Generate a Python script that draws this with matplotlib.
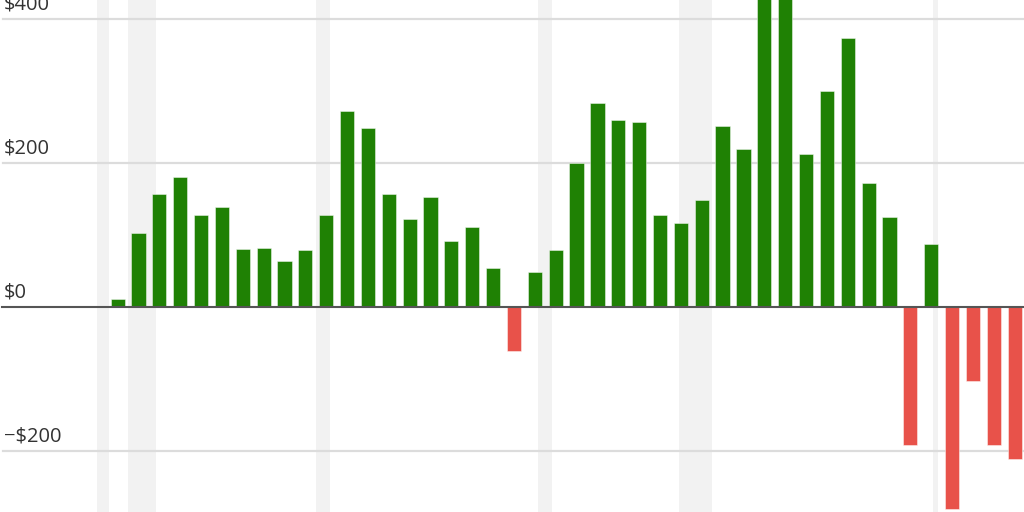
import matplotlib
matplotlib.use("Agg")
import matplotlib.pyplot as plt
import matplotlib.transforms as mtransforms

plt.rcParams['font.family'] = ['Open Sans', 'DejaVu Sans']

# yearly values, 1981-2024
years = list(range(1981, 2025))
values = [11, 102, 156, 180, 127, 139, 80, 81, 64, 79,
          128, 272, 248, 156, 122, 152, 92, 111, 54, -62,
          48, 79, 199, 283, 260, 256, 127, 117, 148, 251,
          219, 470, 460, 212, 300, 373, 172, 125, -192, 87,
          -281, -103, -192, -211]

# recession periods (start, end) in fractional years
recessions = [(1980.0, 1980.58), (1981.5, 1982.83), (1990.5, 1991.17),
              (2001.17, 2001.83), (2007.92, 2009.5), (2020.08, 2020.33)]

yticks = [400, 200, 0, -200]
ytick_labels = ['$400', '$200', '$0', '\u2212$200']

green = '#1f8104'
red = '#e8524a'

fig = plt.figure(figsize=(10.24, 5.12), dpi=100)
ax = fig.add_axes([0, 0, 1, 1])

for start, end in recessions:
    ax.axvspan(start, end, color='#f2f2f2', lw=0, zorder=0)

for y in yticks:
    if y == 0:
        continue
    ax.axhline(y, xmin=0.003, color='#dcdcdc', lw=1.6, zorder=1)

colors = [green if v >= 0 else red for v in values]
ax.bar(years, values, width=0.68, color=colors,
       edgecolor=(1, 1, 1, 0.45), linewidth=0.7, zorder=2)

ax.axhline(0, xmin=0.002, color='#555555', lw=1.5, zorder=3)

trans = mtransforms.blended_transform_factory(ax.transAxes, ax.transData)
for y, lab in zip(yticks, ytick_labels):
    ax.annotate(lab, xy=(0.004, y), xycoords=trans,
                xytext=(0, 6.5), textcoords='offset points',
                ha='left', va='baseline', fontsize=14.5, color='#333333')

ax.set_xlim(1975.36, 2024.45)
ax.set_ylim(-285, 426)
ax.axis('off')

fig.savefig('out.png', dpi=100)
